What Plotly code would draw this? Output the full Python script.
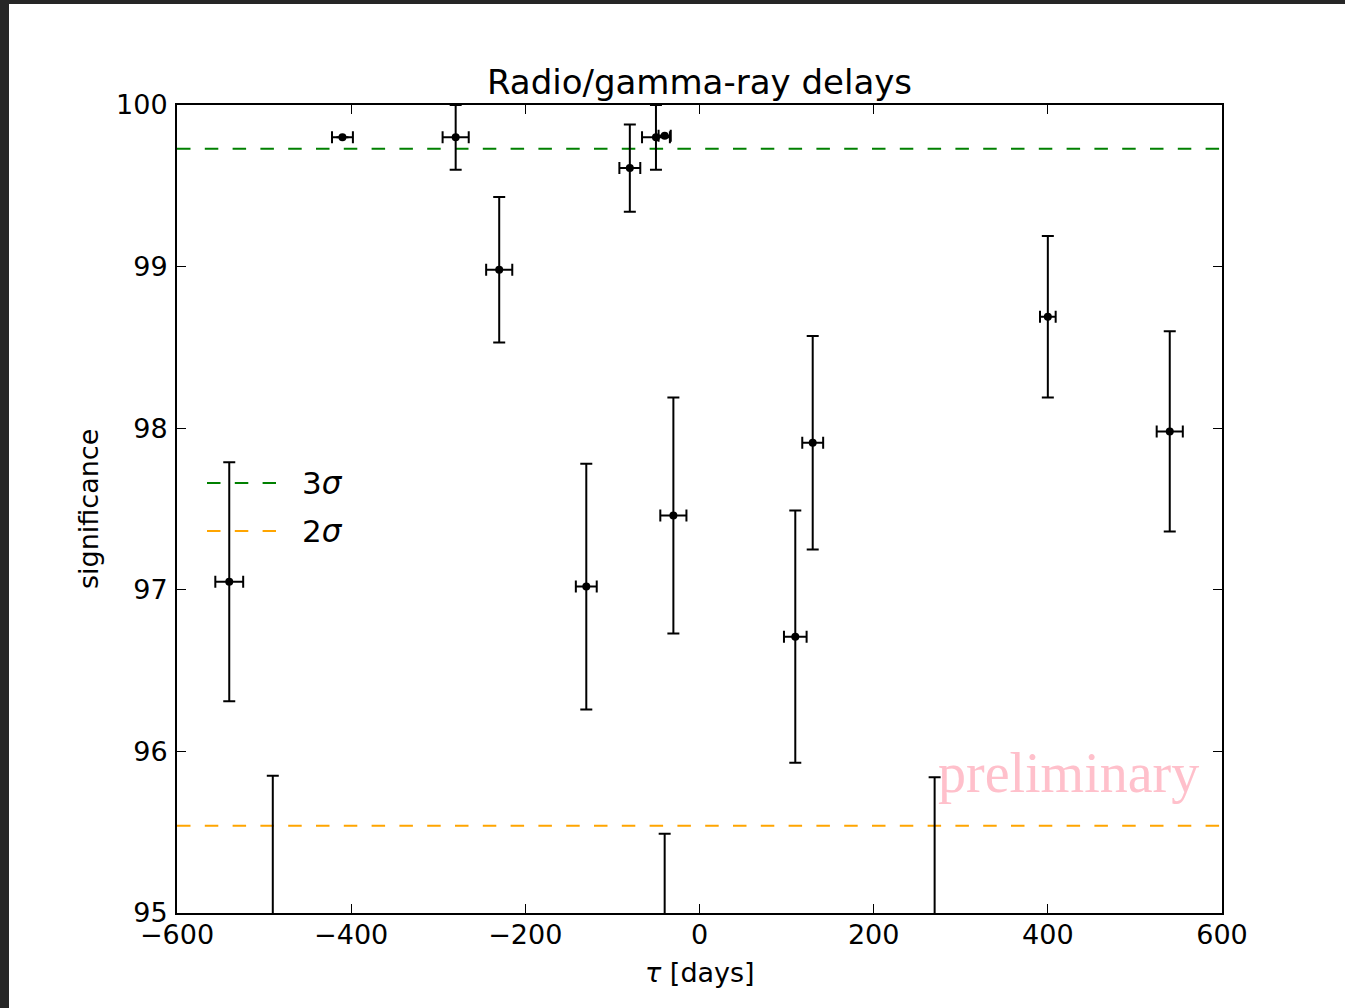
import plotly.graph_objects as go

# ---- data ----
tau = [-540, -410, -280, -230, -130, -80, -50, -40, -30, 110, 130, 400, 540, -490, -40, 270]
tau_err = [16, 12, 15, 15, 12, 12, 16, 7, 15, 13, 12, 9, 15, 12, 12, 12]
significance = [97.05, 99.80, 99.80, 98.98, 97.02, 99.61, 99.80, 99.81, 97.46, 96.71, 97.91, 98.69, 97.98, 94.90, 94.70, 94.90]
significance_err = [0.74, 0.0, 0.20, 0.45, 0.76, 0.27, 0.20, 0.0, 0.73, 0.78, 0.66, 0.50, 0.62, 0.95, 0.79, 0.94]

sigma_labels = ["3<i>σ</i>", "2<i>σ</i>"]
sigma_levels = [99.73, 95.54]
sigma_colors = ["green", "orange"]

x_range = [-600, 600]
y_range = [95, 100]
x_ticks = [-600, -400, -200, 0, 200, 400, 600]
y_ticks = [95, 96, 97, 98, 99, 100]

# ---- layout geometry (px) ----
W, H = 1345, 1008
ML, MR, MT, MB = 177, 123, 105, 95
PW, PH = W - ML - MR, H - MT - MB


def px_x(p):
    return (p - ML) / PW


def px_y(p):
    return (H - MB - p) / PH


FONT = "DejaVu Sans"
DASH = "13.5px,14.3px"

fig = go.Figure()

for lvl, col in zip(sigma_levels, sigma_colors):
    fig.add_trace(go.Scatter(
        x=x_range, y=[lvl, lvl], mode="lines",
        line=dict(color=col, width=2, dash=DASH),
        showlegend=False, hoverinfo="skip"))

fig.add_trace(go.Scatter(
    x=tau, y=significance, mode="markers",
    marker=dict(color="black", size=8),
    error_y=dict(type="data", array=significance_err, color="black", thickness=2, width=6),
    error_x=dict(type="data", array=tau_err, color="black", thickness=2, width=6),
    showlegend=False))

shapes = [
    # background frame (dark border on left/top)
    dict(type="rect", xref="paper", yref="paper", layer="below",
         x0=px_x(9), x1=px_x(W + 5), y0=px_y(H + 5), y1=px_y(4),
         fillcolor="white", line=dict(width=0)),
]
annotations = []
legend_y = [483, 531]
for lbl, col, ly in zip(sigma_labels, sigma_colors, legend_y):
    shapes.append(dict(type="line", xref="paper", yref="paper",
                       x0=px_x(207), x1=px_x(276), y0=px_y(ly), y1=px_y(ly),
                       line=dict(color=col, width=2, dash=DASH)))
    annotations.append(dict(text=lbl, xref="paper", yref="paper",
                            x=px_x(300), y=px_y(ly), xanchor="left", yanchor="middle",
                            showarrow=False, font=dict(family=FONT, size=31, color="black")))

annotations += [
    dict(text="significance", xref="paper", yref="paper", x=px_x(88), y=0.5,
         textangle=-90, showarrow=False, xanchor="center", yanchor="middle",
         font=dict(family=FONT, size=27, color="black")),
    dict(text="<i>τ</i> [days]", xref="paper", yref="paper", x=0.5, y=px_y(972),
         showarrow=False, xanchor="center", yanchor="middle",
         font=dict(family=FONT, size=27, color="black")),
    dict(text="preliminary", xref="paper", yref="paper", x=px_x(1068), y=px_y(773),
         showarrow=False, xanchor="center", yanchor="middle",
         font=dict(family="Liberation Serif", size=56, color="pink")),
]

axis_common = dict(showline=True, linecolor="black", linewidth=2, mirror="allticks",
                   ticks="inside", ticklen=9, tickwidth=1.3, tickcolor="black",
                   showgrid=False, zeroline=False,
                   tickfont=dict(family=FONT, size=27, color="black"))

fig.update_layout(
    width=W, height=H,
    margin=dict(l=ML, r=MR, t=MT, b=MB, pad=0),
    paper_bgcolor="#262626", plot_bgcolor="white",
    title=dict(text="Radio/gamma-ray delays", x=0.5, xref="paper", y=1 - 82 / H,
               yref="container", xanchor="center", yanchor="middle",
               font=dict(family=FONT, size=34, color="black")),
    xaxis=dict(range=x_range, tickvals=x_ticks, ticklabelstandoff=-3, **axis_common),
    yaxis=dict(range=y_range, tickvals=y_ticks, ticklabelstandoff=2, **axis_common),
    shapes=shapes, annotations=annotations,
)

fig.write_html("out.html")
